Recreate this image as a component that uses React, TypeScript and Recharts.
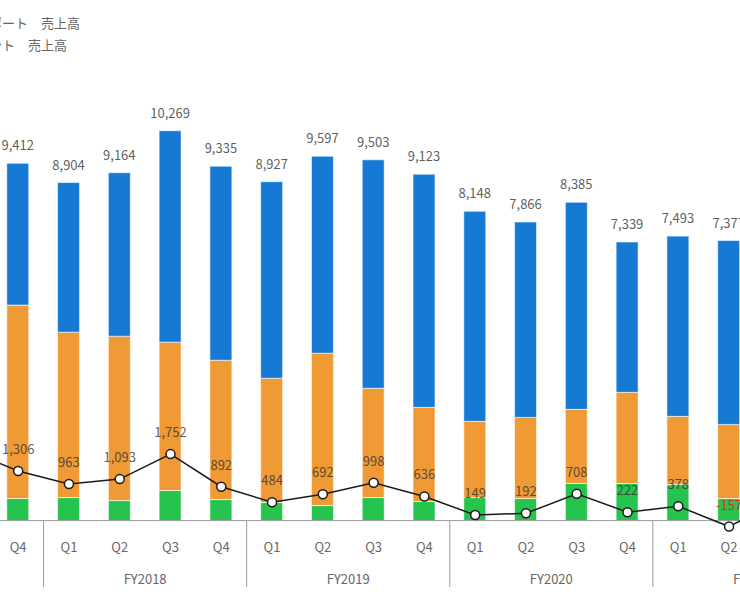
import {
  ComposedChart,
  Bar,
  Line,
  XAxis,
  YAxis,
  ReferenceLine,
  LabelList,
} from "recharts";

const quarters = ["Q3", "Q4", "Q1", "Q2", "Q3", "Q4", "Q1", "Q2", "Q3", "Q4", "Q1", "Q2", "Q3", "Q4", "Q1", "Q2", "Q3", "Q4"];
const fiscalYears = [
  "FY2017", "FY2017",
  "FY2018", "FY2018", "FY2018", "FY2018",
  "FY2019", "FY2019", "FY2019", "FY2019",
  "FY2020", "FY2020", "FY2020", "FY2020",
  "FY2021", "FY2021", "FY2021", "FY2021",
];

// 売上高 (stacked) and 営業利益 (line)
const greenSales = [null, 581, 607, 528, 792, 554, 475, 396, 607, 502, 607, 581, 977, 977, 950, 581, null, null];
const orangeSales = [null, 5095, 4356, 4329, 3907, 3670, 3274, 4013, 2878, 2481, 2007, 2138, 1953, 2402, 1796, 1953, null, null];
const blueSales = [null, 3736, 3941, 4307, 5570, 5111, 5178, 5188, 6018, 6140, 5534, 5147, 5455, 3960, 4747, 4843, null, null];
const totals = [null, 9412, 8904, 9164, 10269, 9335, 8927, 9597, 9503, 9123, 8148, 7866, 8385, 7339, 7493, 7377, null, null];
const profit = [1861, 1306, 963, 1093, 1752, 892, 484, 692, 998, 636, 149, 192, 708, 222, 378, -157, 550, null];

const blueName = "保守サポート　売上高";
const orangeName = "デバイス・コンポーネント　売上高";

const data = quarters.map((q, i) => ({
  key: `${fiscalYears[i]} ${q}`,
  green: greenSales[i],
  orange: orangeSales[i],
  blue: blueSales[i],
  total: totals[i],
  profit: profit[i],
}));

const CHART_W = 914;
const STEP = CHART_W / quarters.length;
const FONT = '"Noto Sans CJK JP", "Noto Sans", sans-serif';

const fmt = (v: number) => v.toLocaleString("en-US");

const QuarterTick = (props: any) => {
  const { x, y, payload } = props;
  const [fy, q] = String(payload.value).split(" ");
  return (
    <g>
      <text x={x} y={y + 14} textAnchor="middle" dominantBaseline="central" fontSize={13} fill="#666" fontFamily={FONT}>
        {q}
      </text>
      {q === "Q1" && (
        <>
          <line x1={x - STEP / 2} x2={x - STEP / 2} y1={y - 11} y2={y + 55} stroke="#9a9a9a" strokeWidth={1} />
          <text x={x + STEP * 1.5} y={y + 46} textAnchor="middle" dominantBaseline="central" fontSize={13} fill="#666" fontFamily={FONT}>
            {fy}
          </text>
        </>
      )}
    </g>
  );
};

const totalLabel = (props: any) => {
  const { value } = props;
  if (value == null) return null;
  const vb = props.viewBox || props;
  const cx = vb.x + (vb.width || 0) / 2;
  return (
    <text x={cx} y={vb.y - 13} textAnchor="middle" fontSize={13} fill="#333" fillOpacity={0.8} fontFamily={FONT}>
      {fmt(value)}
    </text>
  );
};

const profitLabel = (props: any) => {
  const { value } = props;
  if (value == null) return null;
  const vb = props.viewBox || props;
  const cx = vb.x + (vb.width || 0) / 2;
  return (
    <text
      x={cx}
      y={vb.y - 17}
      textAnchor="middle"
      fontSize={13}
      fill={value < 0 ? "#d8321e" : "#333"}
      fillOpacity={value < 0 ? 1 : 0.8}
      fontFamily={FONT}
    >
      {fmt(value)}
    </text>
  );
};

const App = () => {
  return (
    <div
      style={{
        position: "fixed",
        left: 0,
        top: 0,
        width: 740,
        height: 600,
        overflow: "hidden",
        background: "#fff",
        fontFamily: FONT,
      }}
    >
      <div style={{ position: "absolute", right: 660, top: 13, fontSize: 13, color: "#666", whiteSpace: "nowrap" }}>
        {blueName}
      </div>
      <div style={{ position: "absolute", right: 673, top: 35, fontSize: 13, color: "#666", whiteSpace: "nowrap" }}>
        {orangeName}
      </div>

      <div style={{ position: "absolute", left: -58, top: 0 }}>
        <ComposedChart
          width={CHART_W}
          height={600}
          data={data}
          margin={{ top: 65, right: 0, bottom: 0, left: 0 }}
        >
          <XAxis
            dataKey="key"
            height={68}
            interval={0}
            axisLine={false}
            tickLine={false}
            tickSize={0}
            tickMargin={0}
            tick={<QuarterTick />}
          />
          <YAxis hide domain={[-300, 12000]} allowDataOverflow />
          <ReferenceLine y={0} stroke="#9a9a9a" strokeWidth={1} />

          <Bar dataKey="green" stackId="s" fill="#26c44f" stroke="#ffffff" strokeOpacity={0.6} barSize={22} isAnimationActive={false} />
          <Bar dataKey="orange" name={orangeName} stackId="s" fill="#f09a35" stroke="#ffffff" strokeOpacity={0.6} barSize={22} isAnimationActive={false} />
          <Bar dataKey="blue" name={blueName} stackId="s" fill="#167ad4" stroke="#ffffff" strokeOpacity={0.6} barSize={22} isAnimationActive={false}>
            <LabelList dataKey="total" content={totalLabel} />
          </Bar>

          <Line
            dataKey="profit"
            stroke="#1a1a1a"
            strokeWidth={1.5}
            dot={{ r: 4.5, fill: "#fff", stroke: "#1a1a1a", strokeWidth: 1.5 }}
            isAnimationActive={false}
          >
            <LabelList dataKey="profit" content={profitLabel} />
          </Line>
        </ComposedChart>
      </div>
    </div>
  );
};

export default App;
